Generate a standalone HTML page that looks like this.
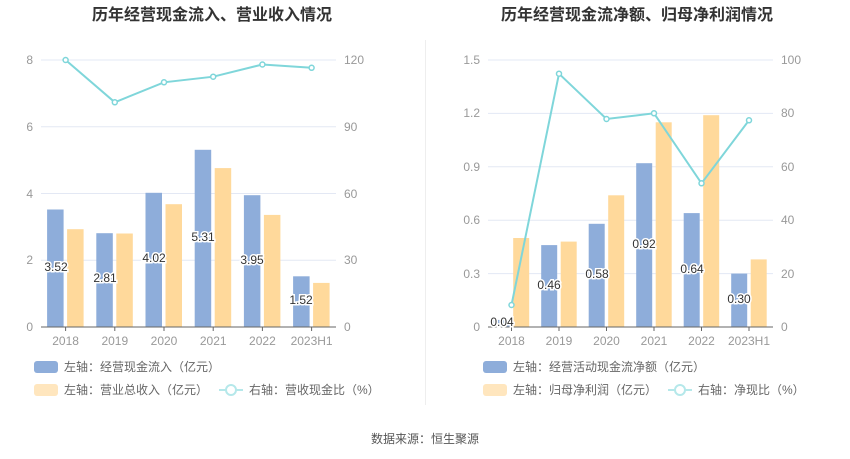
<!DOCTYPE html>
<html><head><meta charset="utf-8"><style>
body{margin:0;background:#fff;}
svg{display:block;font-family:"Liberation Sans","Noto Sans CJK SC",sans-serif;}
.t{font-size:16px;font-weight:bold;fill:#333;}
.ax{font-size:12px;fill:#999;}
.lg{font-size:12px;fill:#666;}
.lb{font-size:12px;fill:#333;stroke:#fff;stroke-width:3px;paint-order:stroke;text-anchor:middle;}
.g{stroke:#e3e8f4;stroke-width:1;}
.b{fill:#8eadda;}
.o{fill:#ffd99b;}
.ln{fill:none;stroke:#7fd6da;stroke-width:2;}
.dot{fill:#fff;stroke:#7fd6da;stroke-width:1.5;}
</style></head><body>
<svg width="850" height="459" viewBox="0 0 850 459">
<text class="t" x="212" y="20" text-anchor="middle">历年经营现金流入、营业收入情况</text>
<text class="t" x="637" y="20" text-anchor="middle">历年经营现金流净额、归母净利润情况</text>
<line x1="425.5" y1="40" x2="425.5" y2="405" stroke="#eee"/>
<!-- LEFT -->
<g class="g"><line x1="41" x2="336" y1="60" y2="60"/><line x1="41" x2="336" y1="126.75" y2="126.75"/><line x1="41" x2="336" y1="193.5" y2="193.5"/><line x1="41" x2="336" y1="260.25" y2="260.25"/></g>
<g class="ax" text-anchor="end"><text x="33" y="64">8</text><text x="33" y="131">6</text><text x="33" y="198">4</text><text x="33" y="264">2</text><text x="33" y="331">0</text></g>
<g class="ax"><text x="344" y="64">120</text><text x="344" y="131">90</text><text x="344" y="198">60</text><text x="344" y="264">30</text><text x="344" y="331">0</text></g>
<rect class="b" x="47.1" y="209.5" width="16.5" height="117.5"/><rect class="o" x="67.1" y="229.2" width="16.5" height="97.8"/>
<rect class="b" x="96.3" y="233.2" width="16.5" height="93.8"/><rect class="o" x="116.3" y="233.5" width="16.5" height="93.5"/>
<rect class="b" x="145.5" y="192.8" width="16.5" height="134.2"/><rect class="o" x="165.5" y="204.2" width="16.5" height="122.8"/>
<rect class="b" x="194.7" y="149.8" width="16.5" height="177.2"/><rect class="o" x="214.7" y="168.1" width="16.5" height="158.9"/>
<rect class="b" x="243.9" y="195.2" width="16.5" height="131.8"/><rect class="o" x="263.9" y="214.9" width="16.5" height="112.1"/>
<rect class="b" x="293.1" y="276.3" width="16.5" height="50.7"/><rect class="o" x="313.1" y="282.9" width="16.5" height="44.1"/>
<line x1="41" x2="336" y1="327" y2="327" stroke="#666"/>
<g stroke="#666"><line x1="65.6" x2="65.6" y1="327" y2="331"/><line x1="114.8" x2="114.8" y1="327" y2="331"/><line x1="164" x2="164" y1="327" y2="331"/><line x1="213.2" x2="213.2" y1="327" y2="331"/><line x1="262.4" x2="262.4" y1="327" y2="331"/><line x1="311.6" x2="311.6" y1="327" y2="331"/></g>
<g class="ax" text-anchor="middle"><text x="65.6" y="345">2018</text><text x="114.8" y="345">2019</text><text x="164" y="345">2020</text><text x="213.2" y="345">2021</text><text x="262.4" y="345">2022</text><text x="311.6" y="345">2023H1</text></g>
<g class="lb"><text x="56" y="271">3.52</text><text x="105" y="282">2.81</text><text x="154" y="262">4.02</text><text x="203" y="241">5.31</text><text x="252" y="264">3.95</text><text x="301" y="304">1.52</text></g>
<polyline class="ln" points="65.6,60 114.8,102.3 164,82.3 213.2,76.7 262.4,64.5 311.6,67.8"/>
<g class="dot"><circle cx="65.6" cy="60" r="2.5"/><circle cx="114.8" cy="102.3" r="2.5"/><circle cx="164" cy="82.3" r="2.5"/><circle cx="213.2" cy="76.7" r="2.5"/><circle cx="262.4" cy="64.5" r="2.5"/><circle cx="311.6" cy="67.8" r="2.5"/></g>
<rect x="34" y="361" width="24" height="12" rx="3" fill="#8eadda"/><text class="lg" x="64" y="371">左轴：经营现金流入（亿元）</text>
<rect x="34" y="384" width="24" height="12" rx="3" fill="#ffe6be"/><text class="lg" x="64" y="394">左轴：营业总收入（亿元）</text>
<line x1="219" x2="243" y1="390" y2="390" stroke="#b5e8ea" stroke-width="2"/><circle cx="231" cy="390" r="5" fill="#fff" stroke="#b5e8ea" stroke-width="2"/><text class="lg" x="249" y="394">右轴：营收现金比（%）</text>
<!-- RIGHT -->
<g class="g"><line x1="488" x2="773" y1="60" y2="60"/><line x1="488" x2="773" y1="113.4" y2="113.4"/><line x1="488" x2="773" y1="166.8" y2="166.8"/><line x1="488" x2="773" y1="220.2" y2="220.2"/><line x1="488" x2="773" y1="273.6" y2="273.6"/></g>
<g class="ax" text-anchor="end"><text x="480" y="64">1.5</text><text x="480" y="117">1.2</text><text x="480" y="171">0.9</text><text x="480" y="224">0.6</text><text x="480" y="278">0.3</text><text x="480" y="331">0</text></g>
<g class="ax"><text x="781" y="64">100</text><text x="781" y="117">80</text><text x="781" y="171">60</text><text x="781" y="224">40</text><text x="781" y="278">20</text><text x="781" y="331">0</text></g>
<rect class="b" x="493.7" y="319.9" width="16" height="7.1"/><rect class="o" x="513.2" y="238" width="16" height="89"/>
<rect class="b" x="541.2" y="245.1" width="16" height="81.9"/><rect class="o" x="560.7" y="241.6" width="16" height="85.4"/>
<rect class="b" x="588.7" y="223.8" width="16" height="103.2"/><rect class="o" x="608.2" y="195.3" width="16" height="131.7"/>
<rect class="b" x="636.2" y="163.2" width="16" height="163.8"/><rect class="o" x="655.7" y="122.3" width="16" height="204.7"/>
<rect class="b" x="683.7" y="213.1" width="16" height="113.9"/><rect class="o" x="703.2" y="115.2" width="16" height="211.8"/>
<rect class="b" x="731.2" y="273.6" width="16" height="53.4"/><rect class="o" x="750.7" y="259.4" width="16" height="67.6"/>
<line x1="488" x2="773" y1="327" y2="327" stroke="#666"/>
<g stroke="#666"><line x1="511.5" x2="511.5" y1="327" y2="331"/><line x1="559" x2="559" y1="327" y2="331"/><line x1="606.5" x2="606.5" y1="327" y2="331"/><line x1="654" x2="654" y1="327" y2="331"/><line x1="701.5" x2="701.5" y1="327" y2="331"/><line x1="749" x2="749" y1="327" y2="331"/></g>
<g class="ax" text-anchor="middle"><text x="511.5" y="345">2018</text><text x="559" y="345">2019</text><text x="606.5" y="345">2020</text><text x="654" y="345">2021</text><text x="701.5" y="345">2022</text><text x="749" y="345">2023H1</text></g>
<g class="lb"><text x="502" y="326">0.04</text><text x="549" y="289">0.46</text><text x="597" y="278">0.58</text><text x="644" y="248">0.92</text><text x="692" y="273">0.64</text><text x="739" y="303">0.30</text></g>
<polyline class="ln" points="511.5,305 559,73.7 606.5,119 654,113.3 701.5,183.3 749,120.3"/>
<g class="dot"><circle cx="511.5" cy="305" r="2.5"/><circle cx="559" cy="73.7" r="2.5"/><circle cx="606.5" cy="119" r="2.5"/><circle cx="654" cy="113.3" r="2.5"/><circle cx="701.5" cy="183.3" r="2.5"/><circle cx="749" cy="120.3" r="2.5"/></g>
<rect x="483" y="361" width="24" height="12" rx="3" fill="#8eadda"/><text class="lg" x="513" y="371">左轴：经营活动现金流净额（亿元）</text>
<rect x="483" y="384" width="24" height="12" rx="3" fill="#ffe6be"/><text class="lg" x="513" y="394">左轴：归母净利润（亿元）</text>
<line x1="668" x2="692" y1="390" y2="390" stroke="#b5e8ea" stroke-width="2"/><circle cx="680" cy="390" r="5" fill="#fff" stroke="#b5e8ea" stroke-width="2"/><text class="lg" x="698" y="394">右轴：净现比（%）</text>
<text x="425" y="443" text-anchor="middle" style="font-size:12px;fill:#555">数据来源：恒生聚源</text>
</svg>
</body></html>
